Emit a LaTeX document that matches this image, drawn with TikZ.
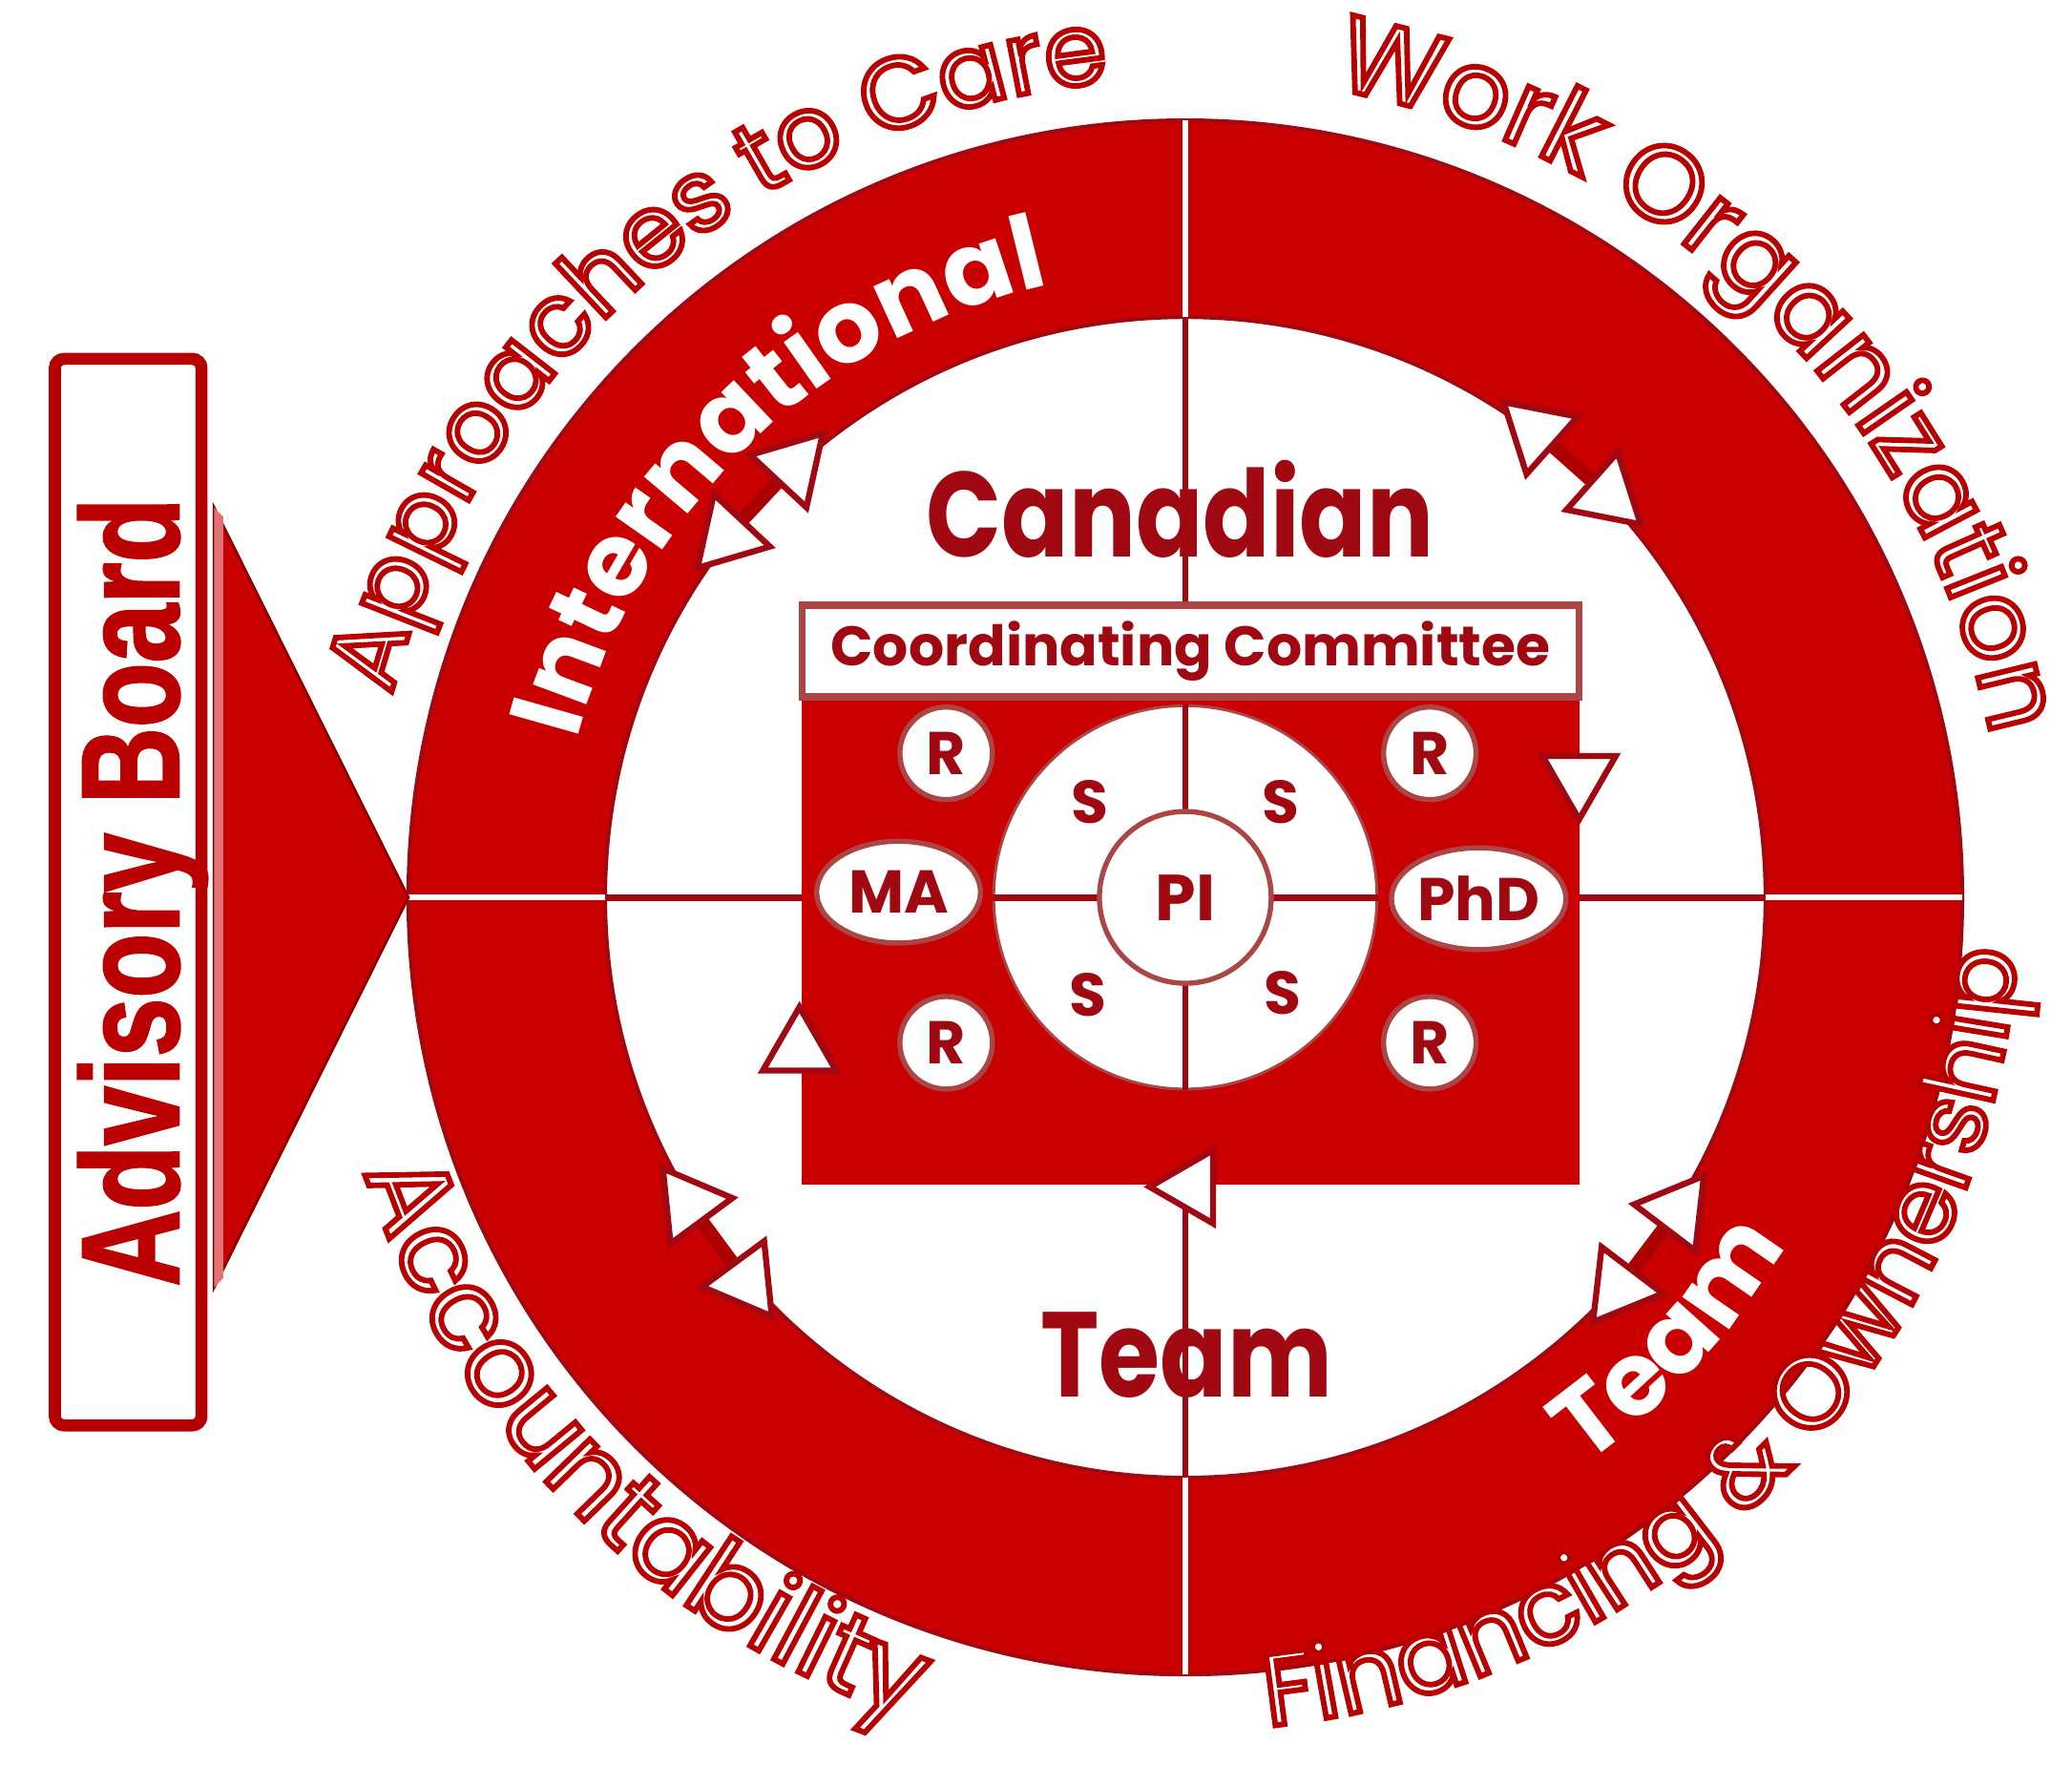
\documentclass[tikz,border=0pt]{standalone}
\usepackage{xcolor}
\usepackage{fontspec}
\usepackage{tikz}
\usetikzlibrary{arrows.meta,positioning,shapes.geometric,calc,decorations.text}

\setmainfont{Poppins}
\newfontfamily\boardfont[FakeStretch=0.76, FakeBold=1.5]{Liberation Sans}
\newfontfamily\bigfont[FakeStretch=0.82]{Poppins}

\definecolor{ringred}{RGB}{202,0,0}
\definecolor{inkred}{RGB}{160,8,18}
\definecolor{rimred}{RGB}{170,70,70}

% outline letters: white fill, red stroke
\newcommand{\outl}{\color{white}\special{pdf:literal direct 0.72 0 0 RG 2 Tr 1.2 w}}
\newcommand{\ringfont}{\fontsize{22}{26}\selectfont\bfseries}

\tikzset{wtri/.tip={Triangle[length=0.56cm, width=0.65cm, fill=white, color=inkred, line width=1.3pt]}}

\begin{document}
\begin{tikzpicture}[every node/.style={font=\bfseries\fontsize{13}{15}\selectfont, text=inkred},
  ringpart/.style={circle, line width=0.8pt, draw=inkred, inner sep=0pt, outer sep=0pt},
  crossline/.style={inkred, line width=1.4pt},
  gapline/.style={white, line width=1.3pt},
  rnode/.style={circle, draw=rimred, line width=1.1pt, fill=white, minimum size=0.7cm, inner sep=0pt},
  dnode/.style={ellipse, draw=rimred, line width=1.1pt, fill=white, minimum height=0.77cm, inner sep=0pt},
  boxtip/.style={regular polygon, regular polygon sides=3, draw=inkred, fill=white, line width=1.3pt, minimum size=0.64cm, inner sep=0pt},
  dbl/.style={draw=ringred!85!black, line width=3pt, wtri-wtri},
  bigword/.style={font=\bigfont\bfseries\fontsize{26}{30}\selectfont, text=inkred}]
  \useasboundingbox (-8.97,-6.56) rectangle (6.71,6.79);

  % advisory board
  \node[rotate=90, draw=ringred!90!black, line width=2.6pt, rounded corners=2pt,
        minimum width=8.07cm, minimum height=1.11cm, text=ringred!92!black, text depth=0pt,
        font=\boardfont\bfseries\fontsize{30}{33}\selectfont] (board) at (-8.00,0.04) {Advisory Board};

  % ring and inner disk
  \node[ringpart, fill=ringred, minimum size=11.76cm] (ring) at (0,0) {};
  \node[ringpart, fill=white, minimum size=8.78cm] (disk) at (0,0) {};
  \foreach \s in {north,south,east,west}
    \draw[gapline] (ring.\s) -- (disk.\s);
  \draw[crossline] (disk.west) -- (disk.east);
  \draw[crossline] (disk.north) -- (disk.south);

  \coordinate (tritop) at (-7.35,2.95);
  \coordinate (tribot) at (-7.35,-2.95);
  \fill[ringred, draw=ringred!70!black, line width=0.6pt] (tritop) -- (ring.west) -- (tribot) -- cycle;
  \fill[ringred!55!white] (tritop) -- ++(0.07,-0.07) -- ($(tribot)+(0.07,0.07)$) -- (tribot) -- cycle;

  % committee box
  \node[fill=ringred, minimum width=5.88cm, minimum height=3.69cm, outer sep=0pt] (body) at (0.04,-0.325) {};
  \node[draw=rimred, line width=1.6pt, fill=white, minimum width=5.88cm, minimum height=0.69cm,
        outer sep=0pt, font=\bfseries\fontsize{12}{14}\selectfont, above=0pt of body] (cc) {Coordinating Committee};

  \node[circle, draw=rimred, line width=0.6pt, fill=white, minimum size=2.9cm] (hub) at (0,0) {};
  \draw[crossline] (hub.west) -- (hub.east);
  \draw[crossline] (hub.north) -- (hub.south);
  \node[circle, draw=rimred, line width=1.1pt, fill=white, minimum size=1.3cm,
        font=\bfseries\fontsize{14}{16}\selectfont] (pi) at (0,0) {PI};

  \foreach \x/\y/\n in {-0.72/0.72/sA, 0.72/0.72/sB, -0.74/-0.74/sC, 0.74/-0.72/sD}
    \node (\n) at (\x,\y) {S};
  \foreach \x/\y/\n in {-1.81/1.09/rA, 1.85/1.09/rB, -1.81/-1.10/rC, 1.85/-1.10/rD}
    \node[rnode] (\n) at (\x,\y) {R};
  \node[dnode, minimum width=1.24cm] (ma) at (-2.17,0.04) {MA};
  \node[dnode, minimum width=1.32cm] (phd) at (2.22,-0.01) {PhD};

  % arrow heads on the box edges
  \node[boxtip] (tipL) at (-2.92,-1.15) {};
  \node[boxtip, rotate=180] (tipR) at (2.98,0.91) {};
  \node[boxtip, rotate=90] (tipB) at (0.05,-2.19) {};

  % double arrows across the inner rim
  \foreach \a/\n [evaluate=\a as \ap using \a+90, evaluate=\a as \am using \a-90] in {137/tl, 48.3/tr, 216.4/bl, 322.8/br}{
    \coordinate (\n-1) at ($(\a:4.40)+(\ap:0.74)$);
    \coordinate (\n-2) at ($(\a:4.40)+(\am:0.74)$);
    \draw[dbl] (\n-1) -- (\n-2);
  }

  \node[bigword] (canadian) at (-0.04,2.94) {Canadian};
  \node[bigword] (team) at (0.01,-3.46) {Team};

  % words on the ring
  \path[decorate, decoration={text along path, text align=center,
        text={|\ringfont\color{white}|International}}]
    (172:4.75) arc[start angle=172, end angle=96, radius=4.75];
  \path[decorate, decoration={text along path, text align=center,
        text={|\ringfont\color{white}|Team}}]
    (-75:5.25) arc[start angle=-75, end angle=-10, radius=5.25];

  % outlined words round the ring
  \path[decorate, decoration={text along path, text align=center,
        text={|\fontsize{21.5}{25}\selectfont\outl|Approaches to Care}}]
    (180:6.2) arc[start angle=180, end angle=81, radius=6.2];
  \path[decorate, decoration={text along path, text align=center,
        text={|\fontsize{23}{26}\selectfont\outl|Work Organization}}]
    (97:6.22) arc[start angle=97, end angle=-6, radius=6.22];
  \path[decorate, decoration={text along path, text align=center,
        text={|\fontsize{22}{25}\selectfont\outl|Financing {\&} Ownership}}]
    (-98:6.3) arc[start angle=-98, end angle=10, radius=6.3];
  \path[decorate, decoration={text along path, text align=center,
        text={|\fontsize{24}{27}\selectfont\outl|Accountability}}]
    (175:6.55) arc[start angle=175, end angle=275, radius=6.55];
\end{tikzpicture}
\end{document}
